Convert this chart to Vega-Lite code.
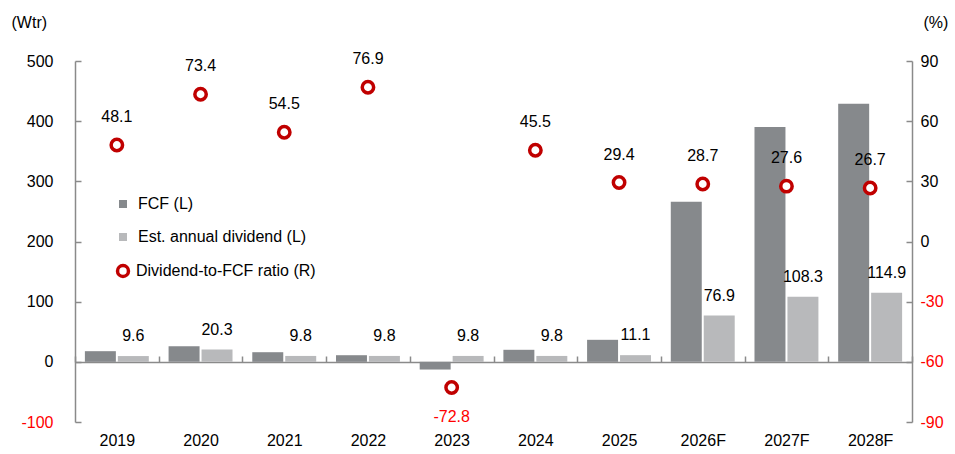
{
  "$schema": "https://vega.github.io/schema/vega-lite/v6.json",
  "width": 837,
  "height": 361,
  "autosize": {"type": "none"},
  "padding": {"left": 75, "top": 61, "right": 43, "bottom": 32},
  "background": "white",
  "config": {
    "view": {"stroke": null},
    "font": "Liberation Sans",
    "axis": {"labelFont": "Liberation Sans", "labelFontSize": 16, "labelColor": "black", "titleFont": "Liberation Sans", "titleFontSize": 16, "titleFontWeight": "normal", "titleColor": "black", "domainColor": "#8a8a8a", "tickColor": "#8a8a8a", "domainWidth": 1.5, "tickWidth": 1.5, "grid": false},
    "legend": {"labelFont": "Liberation Sans", "labelFontSize": 16, "labelColor": "black", "labelLimit": 400}
  },
  "datasets": {
    "bars": [
      {"year": "2019", "series": "FCF (L)", "value": 17.7},
      {"year": "2019", "series": "Est. annual dividend (L)", "value": 9.6},
      {"year": "2020", "series": "FCF (L)", "value": 26.0},
      {"year": "2020", "series": "Est. annual dividend (L)", "value": 20.3},
      {"year": "2021", "series": "FCF (L)", "value": 16.0},
      {"year": "2021", "series": "Est. annual dividend (L)", "value": 9.8},
      {"year": "2022", "series": "FCF (L)", "value": 11.0},
      {"year": "2022", "series": "Est. annual dividend (L)", "value": 9.8},
      {"year": "2023", "series": "FCF (L)", "value": -12.8},
      {"year": "2023", "series": "Est. annual dividend (L)", "value": 9.8},
      {"year": "2024", "series": "FCF (L)", "value": 20.0},
      {"year": "2024", "series": "Est. annual dividend (L)", "value": 9.8},
      {"year": "2025", "series": "FCF (L)", "value": 36.6},
      {"year": "2025", "series": "Est. annual dividend (L)", "value": 11.1},
      {"year": "2026F", "series": "FCF (L)", "value": 266.0},
      {"year": "2026F", "series": "Est. annual dividend (L)", "value": 76.9},
      {"year": "2027F", "series": "FCF (L)", "value": 390.5},
      {"year": "2027F", "series": "Est. annual dividend (L)", "value": 108.3},
      {"year": "2028F", "series": "FCF (L)", "value": 429.0},
      {"year": "2028F", "series": "Est. annual dividend (L)", "value": 114.9}
    ],
    "ratio": [
      {"year": "2019", "series": "Dividend-to-FCF ratio (R)", "ratio": 48.1},
      {"year": "2020", "series": "Dividend-to-FCF ratio (R)", "ratio": 73.4},
      {"year": "2021", "series": "Dividend-to-FCF ratio (R)", "ratio": 54.5},
      {"year": "2022", "series": "Dividend-to-FCF ratio (R)", "ratio": 76.9},
      {"year": "2023", "series": "Dividend-to-FCF ratio (R)", "ratio": -72.8},
      {"year": "2024", "series": "Dividend-to-FCF ratio (R)", "ratio": 45.5},
      {"year": "2025", "series": "Dividend-to-FCF ratio (R)", "ratio": 29.4},
      {"year": "2026F", "series": "Dividend-to-FCF ratio (R)", "ratio": 28.7},
      {"year": "2027F", "series": "Dividend-to-FCF ratio (R)", "ratio": 27.6},
      {"year": "2028F", "series": "Dividend-to-FCF ratio (R)", "ratio": 26.7}
    ]
  },
  "layer": [
    {
      "data": {"name": "bars"},
      "encoding": {
        "x": {"field": "year", "type": "nominal", "scale": {"paddingInner": 0, "paddingOuter": 0},
          "axis": {"title": null, "labelAngle": 0, "offset": -60, "tickBand": "extent", "tickSize": -6, "labelPadding": 76, "domain": true}},
        "xOffset": {"field": "series", "type": "nominal", "sort": ["FCF (L)", "Est. annual dividend (L)"], "scale": {"paddingInner": 0.06, "paddingOuter": 0.3}},
        "y": {"field": "value", "type": "quantitative", "scale": {"domain": [-100, 500], "nice": false, "zero": false},
          "axis": {"orient": "left", "values": [-100, 0, 100, 200, 300, 400, 500], "labelExpr": "'' + datum.value", "tickSize": -6, "labelPadding": 28, "title": "(Wtr)", "titleAngle": 0, "titleAlign": "left", "titleBaseline": "middle", "titleX": -64, "titleY": -39,
            "labelColor": {"condition": {"test": "datum.value < 0", "value": "#ff0000"}, "value": "black"}}}
      },
      "layer": [
        {
          "mark": {"type": "bar"},
          "encoding": {
            "color": {"field": "series", "type": "nominal",
              "scale": {"domain": ["FCF (L)", "Est. annual dividend (L)"], "range": ["#86898c", "#b8b9bb"]},
              "legend": {"title": null, "orient": "none", "legendX": 40, "legendY": 135, "rowPadding": 17, "symbolType": "square", "symbolSize": 64, "labelOffset": 7, "labelLimit": 400}}
          }
        },
        {
          "transform": [{"filter": "datum.series === 'Est. annual dividend (L)'"}],
          "mark": {"type": "text", "fontSize": 16, "font": "Liberation Sans", "baseline": "middle", "dy": -20, "color": "black"},
          "encoding": {"text": {"field": "value", "type": "nominal"}}
        }
      ]
    },
    {
      "data": {"name": "ratio"},
      "encoding": {
        "x": {"field": "year", "type": "nominal"},
        "y": {"field": "ratio", "type": "quantitative", "scale": {"domain": [-90, 90], "nice": false, "zero": false},
          "axis": {"orient": "right", "values": [-90, -60, -30, 0, 30, 60, 90], "labelExpr": "'' + datum.value", "tickSize": -6, "labelPadding": 14, "title": "(%)", "titleAngle": 0, "titleAlign": "left", "titleBaseline": "middle", "titleX": 11, "titleY": -39,
            "labelColor": {"condition": {"test": "datum.value < 0", "value": "#ff0000"}, "value": "black"}}}
      },
      "layer": [
        {
          "mark": {"type": "point", "shape": "circle", "filled": false, "fill": "white", "size": 130, "strokeWidth": 3.5, "opacity": 1},
          "encoding": {"stroke": {"field": "series", "type": "nominal", "scale": {"range": ["#c00000"]},
            "legend": {"title": null, "orient": "none", "legendX": 40, "legendY": 202, "symbolType": "circle", "symbolSize": 120, "symbolStrokeWidth": 3.5, "symbolFillColor": "white", "symbolOpacity": 1, "labelOffset": 5, "labelLimit": 400}}}
        },
        {
          "transform": [{"filter": "datum.ratio >= 0"}],
          "mark": {"type": "text", "fontSize": 16, "font": "Liberation Sans", "baseline": "middle", "dy": -28, "color": "black"},
          "encoding": {"text": {"field": "ratio", "type": "nominal"}}
        },
        {
          "transform": [{"filter": "datum.ratio < 0"}],
          "mark": {"type": "text", "fontSize": 16, "font": "Liberation Sans", "baseline": "middle", "dy": 29, "color": "#ff0000"},
          "encoding": {"text": {"field": "ratio", "type": "nominal"}}
        }
      ]
    }
  ],
  "resolve": {"scale": {"y": "independent"}, "axis": {"y": "independent"}}
}
